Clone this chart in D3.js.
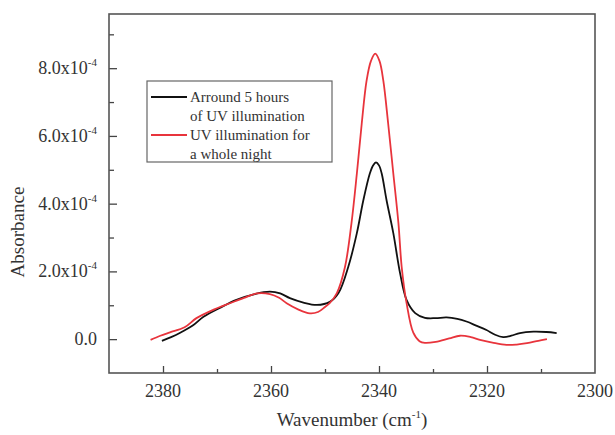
<!DOCTYPE html>
<html lang="en">
<head>
<meta charset="utf-8">
<title>Absorbance</title>
<script src="https://cdn.jsdelivr.net/npm/d3@7"></script>
<style>
  body { margin: 0; background: #fff; }
  svg text { font-family: "Liberation Serif", "Times New Roman", serif; fill: #333; }
  .curve { fill: none; stroke-width: 1.8px; }
</style>
</head>
<body>
<div id="chart"></div>
<script>
// absorbance values in units of 1e-4
var wnBlack = [2380.2, 2378.5, 2376.9, 2374.5, 2372.5, 2369.5, 2366.4, 2363.0, 2360.2, 2358.3,
  2356.5, 2354.0, 2351.5, 2349.1, 2347.5, 2345.7, 2344.1, 2342.9, 2341.7, 2341.1,
  2340.55, 2340.0, 2339.5, 2338.6, 2337.35, 2336.1, 2334.9, 2333.3, 2331.5, 2329.5,
  2327.5, 2325.5, 2323.8, 2322.0, 2320.1, 2318.5, 2317.0, 2315.5, 2313.9, 2311.4,
  2309.0, 2307.1];
var absBlack = [-0.05, 0.06, 0.18, 0.40, 0.66, 0.92, 1.16, 1.33, 1.40, 1.35,
  1.21, 1.08, 1.01, 1.10, 1.36, 2.13, 3.13, 4.10, 4.89, 5.13,
  5.22, 5.13, 4.89, 4.10, 3.13, 1.95, 1.16, 0.77, 0.63, 0.62,
  0.64, 0.60, 0.52, 0.40, 0.27, 0.13, 0.06, 0.10, 0.18, 0.22,
  0.21, 0.18];

var wnRed = [2382.3, 2380.5, 2378.7, 2376.0, 2373.8, 2370.5, 2367.6, 2365.0, 2362.6, 2360.2,
  2358.5, 2357.1, 2355.0, 2352.8, 2351.3, 2350.0, 2349.1, 2347.8, 2346.3, 2345.1,
  2344.1, 2343.2, 2342.3, 2341.5, 2340.7, 2339.9, 2339.2, 2338.3, 2337.35, 2336.4,
  2335.8, 2334.9, 2333.65, 2332.5, 2331.5, 2329.5, 2327.0, 2325.0, 2323.0, 2321.3,
  2319.0, 2316.4, 2314.5, 2312.6, 2310.5, 2308.9];
var absRed = [-0.02, 0.10, 0.20, 0.35, 0.62, 0.88, 1.06, 1.22, 1.35, 1.33,
  1.22, 1.06, 0.88, 0.76, 0.80, 0.95, 1.07, 1.36, 2.13, 3.42,
  4.89, 6.36, 7.63, 8.21, 8.43, 8.21, 7.63, 6.36, 4.89, 3.42,
  2.13, 1.07, 0.19, -0.06, -0.11, -0.08, 0.02, 0.10, 0.06, -0.02,
  -0.10, -0.17, -0.16, -0.12, -0.05, 0.00];

var xMajor = [2380, 2360, 2340, 2320];
var xMinor = [2370, 2350, 2330, 2310];
var xLabels = [2380, 2360, 2340, 2320, 2300];
var yMajor = [0, 2, 4, 6, 8];
var yMinor = [1, 3, 5, 7, 9];
var legendLines = ["Arround 5 hours", "of UV illumination", "UV illumination for", "a whole night"];
var seriesColors = ["#111", "#e8343c"];

var width = 615, height = 435;
var margin = {left: 109, right: 20, top: 14, bottom: 62};

var svg = d3.select("#chart").append("svg")
    .attr("width", width)
    .attr("height", height);

var x = d3.scaleLinear().domain([2390, 2300]).range([margin.left, width - margin.right]);
var y = d3.scaleLinear().domain([-1.0, 9.6]).range([height - margin.bottom, margin.top]);

// minor ticks
svg.append("g")
    .attr("transform", "translate(0," + y.range()[0] + ")")
    .call(d3.axisBottom(x).tickValues(xMinor).tickSize(-4).tickFormat(""))
    .call(function(g) { g.select(".domain").remove(); })
    .selectAll("line").attr("stroke", "#444").attr("stroke-width", 1.3);

svg.append("g")
    .attr("transform", "translate(" + margin.left + ",0)")
    .call(d3.axisLeft(y).tickValues(yMinor).tickSize(-5).tickFormat(""))
    .call(function(g) { g.select(".domain").remove(); })
    .selectAll("line").attr("stroke", "#444").attr("stroke-width", 1.3);

// major x ticks
var gx = svg.append("g")
    .attr("transform", "translate(0," + y.range()[0] + ")")
    .call(d3.axisBottom(x).tickValues(xMajor).tickSize(-7).tickFormat(""));
gx.select(".domain").remove();
gx.selectAll("line").attr("stroke", "#444").attr("stroke-width", 1.3);

svg.append("g").selectAll("text")
    .data(xLabels)
  .enter().append("text")
    .attr("x", function(d) { return x(d); })
    .attr("y", 397)
    .attr("text-anchor", "middle")
    .style("font-size", "18px")
    .text(function(d) { return d; });

// major y ticks
var gy = svg.append("g")
    .attr("transform", "translate(" + margin.left + ",0)")
    .call(d3.axisLeft(y).tickValues(yMajor).tickSize(-8).tickFormat(""));
gy.select(".domain").remove();
gy.selectAll("line").attr("stroke", "#444").attr("stroke-width", 1.3);

var ylab = svg.append("g").selectAll("text")
    .data(yMajor)
  .enter().append("text")
    .attr("x", 97)
    .attr("y", function(d) { return y(d) + 6; })
    .attr("text-anchor", "end")
    .style("font-size", "18px");
ylab.each(function(d) {
  var t = d3.select(this);
  if (d === 0) { t.text("0.0"); return; }
  t.append("tspan").text(d.toFixed(1) + "x10");
  t.append("tspan").attr("dy", -8).style("font-size", "11px").text("-4");
});

// frame
svg.append("rect")
    .attr("x", margin.left)
    .attr("y", margin.top)
    .attr("width", width - margin.right - margin.left)
    .attr("height", height - margin.bottom - margin.top)
    .attr("fill", "none")
    .attr("stroke", "#555")
    .attr("stroke-width", 1.6);

// curves
var line = d3.line()
    .x(function(d) { return x(d[0]); })
    .y(function(d) { return y(d[1]); })
    .curve(d3.curveCatmullRom.alpha(0.5));

var series = [d3.zip(wnBlack, absBlack), d3.zip(wnRed, absRed)];

svg.selectAll(".curve")
    .data(series)
  .enter().append("path")
    .attr("class", "curve")
    .attr("stroke", function(d, i) { return seriesColors[i]; })
    .attr("d", line);

// legend
var legend = svg.append("g");
legend.append("rect")
    .attr("x", 147).attr("y", 81)
    .attr("width", 185).attr("height", 81)
    .attr("fill", "#fff")
    .attr("stroke", "#666")
    .attr("stroke-width", 1.2);

legend.selectAll(".lg-line")
    .data([0, 2])
  .enter().append("line")
    .attr("x1", 151).attr("x2", 187)
    .attr("y1", function(d) { return 97 + d * 19; })
    .attr("y2", function(d) { return 97 + d * 19; })
    .attr("stroke", function(d, i) { return seriesColors[i]; })
    .attr("stroke-width", 2);

legend.selectAll(".lg-text")
    .data(legendLines)
  .enter().append("text")
    .attr("x", 190)
    .attr("y", function(d, i) { return 102 + i * 19; })
    .style("font-size", "15px")
    .text(function(d) { return d; });

// axis titles
svg.append("text")
    .attr("transform", "translate(24,232) rotate(-90)")
    .attr("text-anchor", "middle")
    .style("font-size", "19px")
    .text("Absorbance");

var xt = svg.append("text")
    .attr("x", (margin.left + width - margin.right) / 2)
    .attr("y", 426)
    .attr("text-anchor", "middle")
    .style("font-size", "19px");
xt.append("tspan").text("Wavenumber (cm");
xt.append("tspan").attr("dy", -8).style("font-size", "11px").text("-1");
xt.append("tspan").attr("dy", 8).text(")");
</script>
</body>
</html>
